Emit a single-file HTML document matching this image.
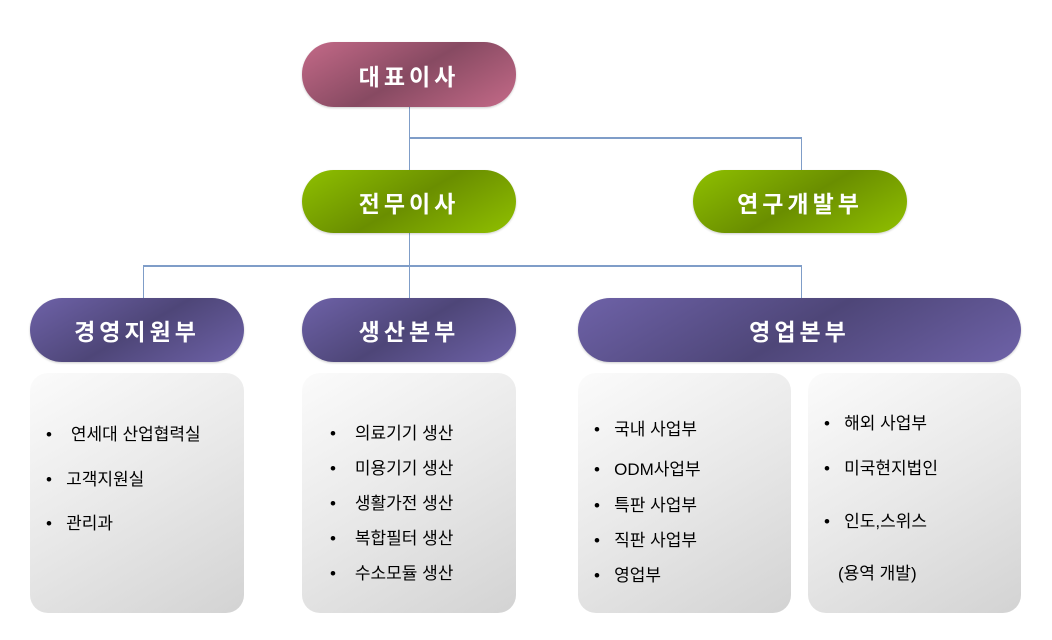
<!DOCTYPE html>
<html><head><meta charset="utf-8"><style>
body{margin:0;width:1052px;height:640px;background:#fff;position:relative;overflow:hidden;font-family:"Liberation Sans","Noto Sans CJK KR","NanumGothic",sans-serif}
.p{position:absolute;border-radius:32px;color:#fff;font-size:23px;display:flex;align-items:center;justify-content:center;letter-spacing:4px;font-weight:bold;box-shadow:0 1px 2px rgba(0,0,0,.2)}
.r{background:linear-gradient(150deg,#c46a88 0%,#874a62 50%,#c46a88 100%)}
.g{background:linear-gradient(150deg,#8fc000 0%,#6a8e00 50%,#90c000 100%)}
.b{background:linear-gradient(150deg,#6e62a8 0%,#4e4678 50%,#6e62a8 100%)}
.l{position:absolute;background:#7f9dc8}
.bx{position:absolute;border-radius:18px;background:linear-gradient(150deg,#fbfbfb 0%,#e8e8e8 50%,#d3d3d3 100%);font-size:17px;color:#000}
.bx div{position:absolute;white-space:nowrap}
</style></head><body>
<div class="l" style="left:409px;top:107px;width:1px;height:191px"></div>
<div class="l" style="left:409px;top:137px;width:393px;height:2px"></div>
<div class="l" style="left:801px;top:137px;width:1px;height:33px"></div>
<div class="l" style="left:143px;top:265px;width:659px;height:2px"></div>
<div class="l" style="left:143px;top:265px;width:1px;height:33px"></div>
<div class="l" style="left:801px;top:265px;width:1px;height:33px"></div>
<div class="p r" style="left:302px;top:42px;width:214px;height:65px">대표이사</div>
<div class="p g" style="left:302px;top:170px;width:214px;height:63px">전무이사</div>
<div class="p g" style="left:693px;top:170px;width:214px;height:63px">연구개발부</div>
<div class="p b" style="left:30px;top:298px;width:214px;height:64px">경영지원부</div>
<div class="p b" style="left:302px;top:298px;width:214px;height:64px">생산본부</div>
<div class="p b" style="left:578px;top:298px;width:443px;height:64px">영업본부</div>
<div class="bx" style="left:30px;top:373px;width:214px;height:240px">
<div style="left:16px;top:47px">•&nbsp;&nbsp;&nbsp;&nbsp;연세대 산업협력실</div>
<div style="left:16px;top:92px">•&nbsp;&nbsp;&nbsp;고객지원실</div>
<div style="left:16px;top:136px">•&nbsp;&nbsp;&nbsp;관리과</div>
</div>
<div class="bx" style="left:302px;top:373px;width:214px;height:240px">
<div style="left:28px;top:46px">•&nbsp;&nbsp;&nbsp;&nbsp;의료기기 생산</div>
<div style="left:28px;top:81px">•&nbsp;&nbsp;&nbsp;&nbsp;미용기기 생산</div>
<div style="left:28px;top:116px">•&nbsp;&nbsp;&nbsp;&nbsp;생활가전 생산</div>
<div style="left:28px;top:151px">•&nbsp;&nbsp;&nbsp;&nbsp;복합필터 생산</div>
<div style="left:28px;top:186px">•&nbsp;&nbsp;&nbsp;&nbsp;수소모듈 생산</div>
</div>
<div class="bx" style="left:578px;top:373px;width:213px;height:240px">
<div style="left:16px;top:42px">•&nbsp;&nbsp;&nbsp;국내 사업부</div>
<div style="left:16px;top:82px">•&nbsp;&nbsp;&nbsp;ODM사업부</div>
<div style="left:16px;top:118px">•&nbsp;&nbsp;&nbsp;특판 사업부</div>
<div style="left:16px;top:153px">•&nbsp;&nbsp;&nbsp;직판 사업부</div>
<div style="left:16px;top:188px">•&nbsp;&nbsp;&nbsp;영업부</div>
</div>
<div class="bx" style="left:808px;top:373px;width:213px;height:240px">
<div style="left:16px;top:36px">•&nbsp;&nbsp;&nbsp;해외 사업부</div>
<div style="left:16px;top:81px">•&nbsp;&nbsp;&nbsp;미국현지법인</div>
<div style="left:16px;top:134px">•&nbsp;&nbsp;&nbsp;인도,스위스</div>
<div style="left:30px;top:186px">(용역 개발)</div>
</div>
</body></html>
